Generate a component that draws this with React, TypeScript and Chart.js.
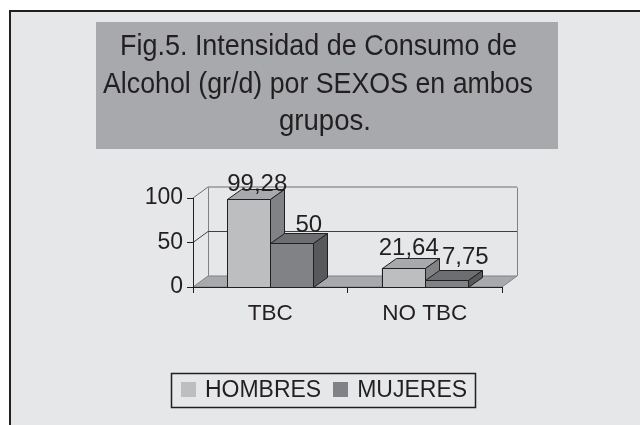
import React, { useEffect, useRef } from 'react';
import { Chart, registerables } from 'chart.js';

Chart.register(...registerables);

// ---------- data ----------
const titleLines = ['Fig.5. Intensidad de Consumo de', 'Alcohol (gr/d) por SEXOS en ambos', 'grupos.'];
const categories = ['TBC', 'NO TBC'];
const seriesNames = ['HOMBRES', 'MUJERES'];
const hombres = [99.28, 21.64];
const mujeres = [50, 7.75];
const yTicks = [0, 50, 100];

// ---------- styles ----------
const FONT = '"Liberation Sans", Arial, Helvetica, sans-serif';
const INK = '#231f20';
const BG = '#e6e7e8';
const FACES = [
  { front: '#bcbec0', top: '#a7a9ac', side: '#808285' },
  { front: '#808285', top: '#6d6e71', side: '#58595b' },
];
const WALL_DX = 15;
const WALL_DY = -11;
const BAR_DX = 14;
const BAR_DY = -10;
// title line layout: [x start, baseline, max width]
const TITLE_LAYOUT = [
  [120, 55, 397],
  [103, 93, 430],
  [279, 129.5, 92],
];
// data-label placement offsets [dx, dy] from the bar's top-centre, per dataset then category
const LABEL_OFFSETS = [
  [[8.5, -8], [5.5, -12.5]],
  [[17, -11], [19, -16]],
];

const fmt = (v: number) => String(v).replace('.', ',');

const px = (v: number) => Math.round(v) + 0.5;

const backdrop = {
  id: 'backdrop',
  beforeDraw(chart: any) {
    const ctx: CanvasRenderingContext2D = chart.ctx;
    const W = chart.width;
    const H = chart.height;
    ctx.save();
    ctx.fillStyle = '#ffffff';
    ctx.fillRect(0, 0, W, H);
    ctx.fillStyle = BG;
    ctx.fillRect(10, 11, W, H);
    ctx.fillStyle = INK;
    ctx.fillRect(9, 10, W, 2);
    ctx.fillRect(9, 10, 2, H);

    // title box
    ctx.fillStyle = '#a7a9ac';
    ctx.fillRect(96, 22, 462, 127);
    ctx.fillStyle = INK;
    ctx.font = `30px ${FONT}`;
    ctx.textAlign = 'left';
    ctx.textBaseline = 'alphabetic';
    titleLines.forEach((t, i) => {
      const [x, y, w] = TITLE_LAYOUT[i];
      ctx.fillText(t, x, y, w);
    });

    // 3D walls & floor
    const { left, right } = chart.chartArea;
    const ys = chart.scales.y;
    const y0 = ys.getPixelForValue(0);
    const yMax = ys.getPixelForValue(ys.max);
    const L = left, R = right;

    // floor
    ctx.fillStyle = '#a7a9ac';
    ctx.beginPath();
    ctx.moveTo(L, y0);
    ctx.lineTo(R, y0);
    ctx.lineTo(R + WALL_DX, y0 + WALL_DY);
    ctx.lineTo(L + WALL_DX, y0 + WALL_DY);
    ctx.closePath();
    ctx.fill();
    ctx.strokeStyle = '#808285';
    ctx.lineWidth = 1;
    ctx.stroke();

    // wall outlines
    ctx.strokeStyle = '#808285';
    ctx.beginPath();
    ctx.moveTo(px(L + WALL_DX), y0 + WALL_DY);
    ctx.lineTo(px(L + WALL_DX), px(yMax + WALL_DY));
    ctx.moveTo(px(R + WALL_DX), y0 + WALL_DY);
    ctx.lineTo(px(R + WALL_DX), px(yMax + WALL_DY));
    ctx.stroke();

    // gridlines on back & side wall
    yTicks.forEach((v) => {
      if (v === 0) return;
      const y = ys.getPixelForValue(v);
      ctx.strokeStyle = v === ys.max ? '#6d6e71' : '#414042';
      ctx.beginPath();
      ctx.moveTo(L, y);
      ctx.lineTo(L + WALL_DX, y + WALL_DY);
      ctx.lineTo(R + WALL_DX, y + WALL_DY);
      ctx.stroke();
    });
    ctx.restore();
  },
};

const bars3d = {
  id: 'bars3d',
  afterDatasetsDraw(chart: any) {
    const ctx: CanvasRenderingContext2D = chart.ctx;
    const nCat = chart.data.labels.length;
    const nDs = chart.data.datasets.length;
    ctx.save();
    ctx.lineWidth = 1;
    ctx.strokeStyle = INK;
    ctx.lineJoin = 'miter';
    const labels: any[] = [];
    for (let i = 0; i < nCat; i++) {
      for (let d = 0; d < nDs; d++) {
        const el = chart.getDatasetMeta(d).data[i];
        const { x, y, base, width } = el.getProps(['x', 'y', 'base', 'width'], true);
        const l = px(x - width / 2);
        const r = px(x + width / 2);
        const t = px(y);
        const b = px(base);
        const f = FACES[d];
        // front
        ctx.fillStyle = f.front;
        ctx.fillRect(l, t, r - l, b - t);
        ctx.strokeRect(l, t, r - l, b - t);
        // top
        ctx.fillStyle = f.top;
        ctx.beginPath();
        ctx.moveTo(l, t);
        ctx.lineTo(l + BAR_DX, t + BAR_DY);
        ctx.lineTo(r + BAR_DX, t + BAR_DY);
        ctx.lineTo(r, t);
        ctx.closePath();
        ctx.fill();
        ctx.stroke();
        // side
        ctx.fillStyle = f.side;
        ctx.beginPath();
        ctx.moveTo(r, t);
        ctx.lineTo(r + BAR_DX, t + BAR_DY);
        ctx.lineTo(r + BAR_DX, b + BAR_DY);
        ctx.lineTo(r, b);
        ctx.closePath();
        ctx.fill();
        ctx.stroke();
        const [ox, oy] = LABEL_OFFSETS[d][i];
        labels.push({ text: fmt(chart.data.datasets[d].data[i]), x: x + ox, y: y + oy });
      }
    }
    ctx.fillStyle = INK;
    ctx.font = `24px ${FONT}`;
    ctx.textAlign = 'center';
    ctx.textBaseline = 'alphabetic';
    labels.forEach((lb) => ctx.fillText(lb.text, lb.x, lb.y));
    ctx.restore();
  },
};

const legendBox = {
  id: 'legendBox',
  afterDraw(chart: any) {
    const ctx: CanvasRenderingContext2D = chart.ctx;
    ctx.save();
    ctx.font = `23px ${FONT}`;
    ctx.textBaseline = 'alphabetic';
    ctx.textAlign = 'left';
    const sw = 15;
    const gapText = 9;
    const gapItem = 12;
    const items = chart.data.datasets.map((ds: any) => ({ label: ds.label, color: ds.backgroundColor }));
    let total = 0;
    items.forEach((it: any, k: number) => {
      total += sw + gapText + ctx.measureText(it.label).width + (k < items.length - 1 ? gapItem : 0);
    });
    const boxL = 171, boxT = 373, boxW = 304, boxH = 34;
    ctx.strokeStyle = INK;
    ctx.lineWidth = 1.5;
    ctx.strokeRect(boxL + 0.5, boxT + 0.5, boxW, boxH);
    let x = boxL + (boxW - total) / 2 + 1;
    items.forEach((it: any) => {
      ctx.fillStyle = it.color;
      ctx.fillRect(Math.round(x), 382, sw, sw);
      x += sw + gapText;
      ctx.fillStyle = INK;
      ctx.fillText(it.label, x, 397);
      x += ctx.measureText(it.label).width + gapItem;
    });
    ctx.restore();
  },
};

export default function App() {
  const ref = useRef<HTMLCanvasElement>(null);
  useEffect(() => {
    const chart = new Chart(ref.current as HTMLCanvasElement, {
      type: 'bar',
      data: {
        labels: categories,
        datasets: [
          {
            label: seriesNames[0],
            data: hombres,
            backgroundColor: FACES[0].front,
            borderColor: INK,
            borderWidth: 1,
            barPercentage: 1,
            categoryPercentage: 0.557,
          },
          {
            label: seriesNames[1],
            data: mujeres,
            backgroundColor: FACES[1].front,
            borderColor: INK,
            borderWidth: 1,
            barPercentage: 1,
            categoryPercentage: 0.557,
          },
        ],
      },
      options: {
        responsive: false,
        animation: false,
        devicePixelRatio: 1,
        layout: { padding: { top: 198, right: 138, left: 0, bottom: 0 } },
        plugins: {
          legend: { display: false },
          title: { display: false },
          tooltip: { enabled: false },
        },
        scales: {
          x: {
            grid: { display: true, drawOnChartArea: false, drawTicks: true, tickLength: 6, color: INK, offset: true },
            border: { display: true, color: INK },
            ticks: { font: { family: FONT, size: 22.5 }, color: INK, padding: 7 },
            afterFit: (s: any) => {
              s.height = 138;
            },
          },
          y: {
            min: 0,
            max: 100,
            afterBuildTicks: (s: any) => {
              s.ticks = yTicks.map((v) => ({ value: v }));
            },
            grid: { display: true, drawOnChartArea: false, drawTicks: true, tickLength: 6, color: INK },
            border: { display: true, color: INK },
            ticks: { font: { family: FONT, size: 23 }, color: INK, padding: 4 },
            afterFit: (s: any) => {
              s.width = 193;
            },
          },
        },
      } as any,
      plugins: [backdrop, bars3d, legendBox],
    });
    return () => chart.destroy();
  }, []);
  return (
    <div style={{ position: 'fixed', left: 0, top: 0, width: 640, height: 425 }}>
      <canvas ref={ref} width={640} height={425} style={{ display: 'block', width: 640, height: 425 }} />
    </div>
  );
}
